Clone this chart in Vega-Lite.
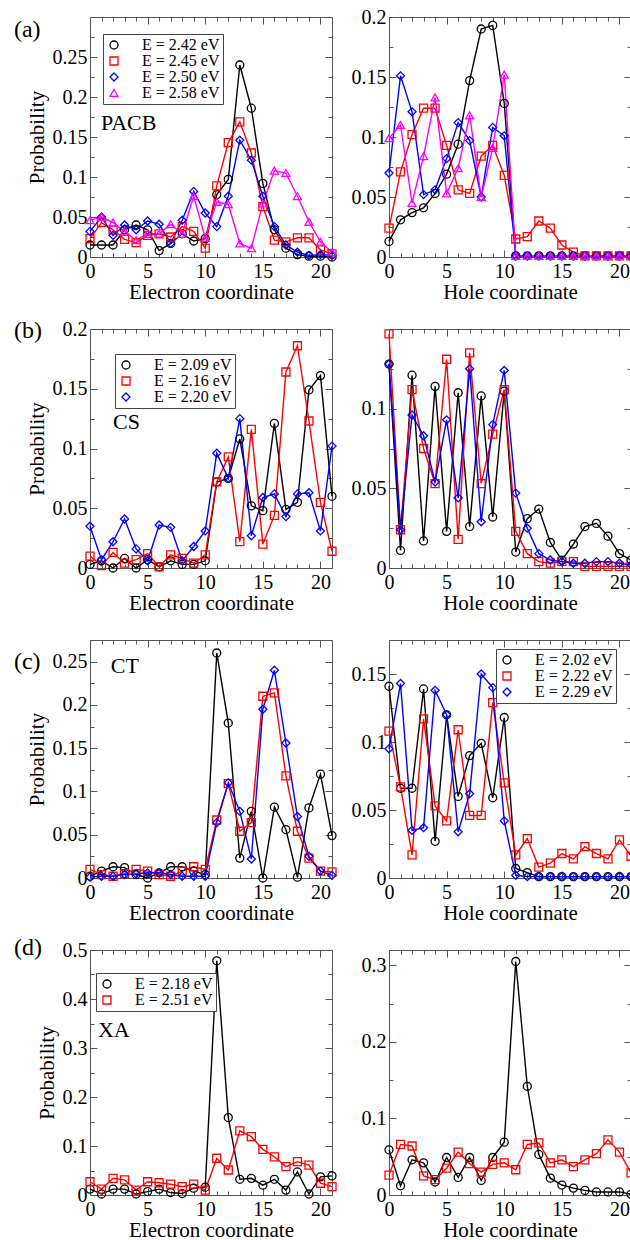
{
"$schema": "https://vega.github.io/schema/vega-lite/v6.json",
"background": "white",
"padding": {"left": 13, "top": 6, "right": 0, "bottom": 0},
"config": {
  "font": "Liberation Serif",
  "view": {"stroke": "#555", "strokeWidth": 1},
  "axis": {"labelFont": "Liberation Serif", "labelFontSize": 20, "labelColor": "#000", "titleFont": "Liberation Serif", "titleFontSize": 21, "titleFontWeight": "normal", "titleColor": "#000", "domain": false, "grid": false, "tickSize": -7, "tickColor": "#555", "tickWidth": 1, "labelFlush": false, "labelOverlap": false},
  "axisX": {"labelPadding": 11, "titlePadding": 0},
  "axisY": {"labelPadding": 10, "titlePadding": 5},
  "legend": {"padding": 3, "strokeColor": "#444", "fillColor": "white", "labelFont": "Liberation Serif", "labelFontSize": 16, "labelColor": "#000", "labelOffset": 20, "symbolSize": 64, "symbolStrokeWidth": 1.3, "rowPadding": 0, "labelLimit": 300}
},
"datasets": {
"aL": [
{"x":0,"y":0.015,"s":"E = 2.42 eV"},{"x":1,"y":0.015,"s":"E = 2.42 eV"},{"x":2,"y":0.015,"s":"E = 2.42 eV"},{"x":3,"y":0.034,"s":"E = 2.42 eV"},{"x":4,"y":0.04,"s":"E = 2.42 eV"},{"x":5,"y":0.034,"s":"E = 2.42 eV"},{"x":6,"y":0.008,"s":"E = 2.42 eV"},{"x":7,"y":0.017,"s":"E = 2.42 eV"},{"x":8,"y":0.029,"s":"E = 2.42 eV"},{"x":9,"y":0.02,"s":"E = 2.42 eV"},{"x":10,"y":0.023,"s":"E = 2.42 eV"},{"x":11,"y":0.078,"s":"E = 2.42 eV"},{"x":12,"y":0.097,"s":"E = 2.42 eV"},{"x":13,"y":0.24,"s":"E = 2.42 eV"},{"x":14,"y":0.186,"s":"E = 2.42 eV"},{"x":15,"y":0.092,"s":"E = 2.42 eV"},{"x":16,"y":0.034,"s":"E = 2.42 eV"},{"x":17,"y":0.011,"s":"E = 2.42 eV"},{"x":18,"y":0.003,"s":"E = 2.42 eV"},{"x":19,"y":0.001,"s":"E = 2.42 eV"},{"x":20,"y":0.001,"s":"E = 2.42 eV"},{"x":21,"y":0.0,"s":"E = 2.42 eV"},
{"x":0,"y":0.023,"s":"E = 2.45 eV"},{"x":1,"y":0.043,"s":"E = 2.45 eV"},{"x":2,"y":0.034,"s":"E = 2.45 eV"},{"x":3,"y":0.022,"s":"E = 2.45 eV"},{"x":4,"y":0.018,"s":"E = 2.45 eV"},{"x":5,"y":0.027,"s":"E = 2.45 eV"},{"x":6,"y":0.029,"s":"E = 2.45 eV"},{"x":7,"y":0.025,"s":"E = 2.45 eV"},{"x":8,"y":0.038,"s":"E = 2.45 eV"},{"x":9,"y":0.032,"s":"E = 2.45 eV"},{"x":10,"y":0.011,"s":"E = 2.45 eV"},{"x":11,"y":0.089,"s":"E = 2.45 eV"},{"x":12,"y":0.143,"s":"E = 2.45 eV"},{"x":13,"y":0.169,"s":"E = 2.45 eV"},{"x":14,"y":0.13,"s":"E = 2.45 eV"},{"x":15,"y":0.063,"s":"E = 2.45 eV"},{"x":16,"y":0.021,"s":"E = 2.45 eV"},{"x":17,"y":0.019,"s":"E = 2.45 eV"},{"x":18,"y":0.024,"s":"E = 2.45 eV"},{"x":19,"y":0.024,"s":"E = 2.45 eV"},{"x":20,"y":0.009,"s":"E = 2.45 eV"},{"x":21,"y":0.004,"s":"E = 2.45 eV"},
{"x":0,"y":0.032,"s":"E = 2.50 eV"},{"x":1,"y":0.05,"s":"E = 2.50 eV"},{"x":2,"y":0.027,"s":"E = 2.50 eV"},{"x":3,"y":0.04,"s":"E = 2.50 eV"},{"x":4,"y":0.034,"s":"E = 2.50 eV"},{"x":5,"y":0.045,"s":"E = 2.50 eV"},{"x":6,"y":0.041,"s":"E = 2.50 eV"},{"x":7,"y":0.017,"s":"E = 2.50 eV"},{"x":8,"y":0.046,"s":"E = 2.50 eV"},{"x":9,"y":0.082,"s":"E = 2.50 eV"},{"x":10,"y":0.055,"s":"E = 2.50 eV"},{"x":11,"y":0.038,"s":"E = 2.50 eV"},{"x":12,"y":0.076,"s":"E = 2.50 eV"},{"x":13,"y":0.146,"s":"E = 2.50 eV"},{"x":14,"y":0.121,"s":"E = 2.50 eV"},{"x":15,"y":0.076,"s":"E = 2.50 eV"},{"x":16,"y":0.038,"s":"E = 2.50 eV"},{"x":17,"y":0.015,"s":"E = 2.50 eV"},{"x":18,"y":0.006,"s":"E = 2.50 eV"},{"x":19,"y":0.002,"s":"E = 2.50 eV"},{"x":20,"y":0.003,"s":"E = 2.50 eV"},{"x":21,"y":0.002,"s":"E = 2.50 eV"},
{"x":0,"y":0.046,"s":"E = 2.58 eV"},{"x":1,"y":0.05,"s":"E = 2.58 eV"},{"x":2,"y":0.043,"s":"E = 2.58 eV"},{"x":3,"y":0.032,"s":"E = 2.58 eV"},{"x":4,"y":0.021,"s":"E = 2.58 eV"},{"x":5,"y":0.029,"s":"E = 2.58 eV"},{"x":6,"y":0.029,"s":"E = 2.58 eV"},{"x":7,"y":0.041,"s":"E = 2.58 eV"},{"x":8,"y":0.029,"s":"E = 2.58 eV"},{"x":9,"y":0.076,"s":"E = 2.58 eV"},{"x":10,"y":0.024,"s":"E = 2.58 eV"},{"x":11,"y":0.069,"s":"E = 2.58 eV"},{"x":12,"y":0.066,"s":"E = 2.58 eV"},{"x":13,"y":0.017,"s":"E = 2.58 eV"},{"x":14,"y":0.011,"s":"E = 2.58 eV"},{"x":15,"y":0.067,"s":"E = 2.58 eV"},{"x":16,"y":0.108,"s":"E = 2.58 eV"},{"x":17,"y":0.105,"s":"E = 2.58 eV"},{"x":18,"y":0.076,"s":"E = 2.58 eV"},{"x":19,"y":0.044,"s":"E = 2.58 eV"},{"x":20,"y":0.019,"s":"E = 2.58 eV"},{"x":21,"y":0.006,"s":"E = 2.58 eV"}
],
"aR": [
{"x":0,"y":0.013,"s":"E = 2.42 eV"},{"x":1,"y":0.031,"s":"E = 2.42 eV"},{"x":2,"y":0.037,"s":"E = 2.42 eV"},{"x":3,"y":0.041,"s":"E = 2.42 eV"},{"x":4,"y":0.053,"s":"E = 2.42 eV"},{"x":5,"y":0.069,"s":"E = 2.42 eV"},{"x":6,"y":0.094,"s":"E = 2.42 eV"},{"x":7,"y":0.147,"s":"E = 2.42 eV"},{"x":8,"y":0.19,"s":"E = 2.42 eV"},{"x":9,"y":0.193,"s":"E = 2.42 eV"},{"x":10,"y":0.128,"s":"E = 2.42 eV"},{"x":11,"y":0.001,"s":"E = 2.42 eV"},{"x":12,"y":0.001,"s":"E = 2.42 eV"},{"x":13,"y":0.001,"s":"E = 2.42 eV"},{"x":14,"y":0.001,"s":"E = 2.42 eV"},{"x":15,"y":0.001,"s":"E = 2.42 eV"},{"x":16,"y":0.001,"s":"E = 2.42 eV"},{"x":17,"y":0.001,"s":"E = 2.42 eV"},{"x":18,"y":0.001,"s":"E = 2.42 eV"},{"x":19,"y":0.001,"s":"E = 2.42 eV"},{"x":20,"y":0.001,"s":"E = 2.42 eV"},{"x":21,"y":0.001,"s":"E = 2.42 eV"},
{"x":0,"y":0.024,"s":"E = 2.45 eV"},{"x":1,"y":0.071,"s":"E = 2.45 eV"},{"x":2,"y":0.102,"s":"E = 2.45 eV"},{"x":3,"y":0.124,"s":"E = 2.45 eV"},{"x":4,"y":0.124,"s":"E = 2.45 eV"},{"x":5,"y":0.093,"s":"E = 2.45 eV"},{"x":6,"y":0.056,"s":"E = 2.45 eV"},{"x":7,"y":0.053,"s":"E = 2.45 eV"},{"x":8,"y":0.084,"s":"E = 2.45 eV"},{"x":9,"y":0.093,"s":"E = 2.45 eV"},{"x":10,"y":0.068,"s":"E = 2.45 eV"},{"x":11,"y":0.015,"s":"E = 2.45 eV"},{"x":12,"y":0.017,"s":"E = 2.45 eV"},{"x":13,"y":0.03,"s":"E = 2.45 eV"},{"x":14,"y":0.024,"s":"E = 2.45 eV"},{"x":15,"y":0.01,"s":"E = 2.45 eV"},{"x":16,"y":0.004,"s":"E = 2.45 eV"},{"x":17,"y":0.001,"s":"E = 2.45 eV"},{"x":18,"y":0.001,"s":"E = 2.45 eV"},{"x":19,"y":0.001,"s":"E = 2.45 eV"},{"x":20,"y":0.001,"s":"E = 2.45 eV"},{"x":21,"y":0.001,"s":"E = 2.45 eV"},
{"x":0,"y":0.07,"s":"E = 2.50 eV"},{"x":1,"y":0.151,"s":"E = 2.50 eV"},{"x":2,"y":0.121,"s":"E = 2.50 eV"},{"x":3,"y":0.052,"s":"E = 2.50 eV"},{"x":4,"y":0.056,"s":"E = 2.50 eV"},{"x":5,"y":0.082,"s":"E = 2.50 eV"},{"x":6,"y":0.112,"s":"E = 2.50 eV"},{"x":7,"y":0.097,"s":"E = 2.50 eV"},{"x":8,"y":0.05,"s":"E = 2.50 eV"},{"x":9,"y":0.108,"s":"E = 2.50 eV"},{"x":10,"y":0.101,"s":"E = 2.50 eV"},{"x":11,"y":0.001,"s":"E = 2.50 eV"},{"x":12,"y":0.001,"s":"E = 2.50 eV"},{"x":13,"y":0.001,"s":"E = 2.50 eV"},{"x":14,"y":0.001,"s":"E = 2.50 eV"},{"x":15,"y":0.001,"s":"E = 2.50 eV"},{"x":16,"y":0.001,"s":"E = 2.50 eV"},{"x":17,"y":0.001,"s":"E = 2.50 eV"},{"x":18,"y":0.001,"s":"E = 2.50 eV"},{"x":19,"y":0.001,"s":"E = 2.50 eV"},{"x":20,"y":0.001,"s":"E = 2.50 eV"},{"x":21,"y":0.001,"s":"E = 2.50 eV"},
{"x":0,"y":0.099,"s":"E = 2.58 eV"},{"x":1,"y":0.11,"s":"E = 2.58 eV"},{"x":2,"y":0.045,"s":"E = 2.58 eV"},{"x":3,"y":0.084,"s":"E = 2.58 eV"},{"x":4,"y":0.133,"s":"E = 2.58 eV"},{"x":5,"y":0.053,"s":"E = 2.58 eV"},{"x":6,"y":0.074,"s":"E = 2.58 eV"},{"x":7,"y":0.118,"s":"E = 2.58 eV"},{"x":8,"y":0.05,"s":"E = 2.58 eV"},{"x":9,"y":0.091,"s":"E = 2.58 eV"},{"x":10,"y":0.152,"s":"E = 2.58 eV"},{"x":11,"y":0.001,"s":"E = 2.58 eV"},{"x":12,"y":0.001,"s":"E = 2.58 eV"},{"x":13,"y":0.001,"s":"E = 2.58 eV"},{"x":14,"y":0.001,"s":"E = 2.58 eV"},{"x":15,"y":0.001,"s":"E = 2.58 eV"},{"x":16,"y":0.001,"s":"E = 2.58 eV"},{"x":17,"y":0.001,"s":"E = 2.58 eV"},{"x":18,"y":0.001,"s":"E = 2.58 eV"},{"x":19,"y":0.001,"s":"E = 2.58 eV"},{"x":20,"y":0.001,"s":"E = 2.58 eV"},{"x":21,"y":0.001,"s":"E = 2.58 eV"}
],
"bL": [
{"x":0,"y":0.003,"s":"E = 2.09 eV"},{"x":1,"y":0.006,"s":"E = 2.09 eV"},{"x":2,"y":0.0,"s":"E = 2.09 eV"},{"x":3,"y":0.008,"s":"E = 2.09 eV"},{"x":4,"y":0.0,"s":"E = 2.09 eV"},{"x":5,"y":0.007,"s":"E = 2.09 eV"},{"x":6,"y":0.001,"s":"E = 2.09 eV"},{"x":7,"y":0.006,"s":"E = 2.09 eV"},{"x":8,"y":0.003,"s":"E = 2.09 eV"},{"x":9,"y":0.003,"s":"E = 2.09 eV"},{"x":10,"y":0.006,"s":"E = 2.09 eV"},{"x":11,"y":0.072,"s":"E = 2.09 eV"},{"x":12,"y":0.075,"s":"E = 2.09 eV"},{"x":13,"y":0.108,"s":"E = 2.09 eV"},{"x":14,"y":0.052,"s":"E = 2.09 eV"},{"x":15,"y":0.048,"s":"E = 2.09 eV"},{"x":16,"y":0.121,"s":"E = 2.09 eV"},{"x":17,"y":0.049,"s":"E = 2.09 eV"},{"x":18,"y":0.055,"s":"E = 2.09 eV"},{"x":19,"y":0.149,"s":"E = 2.09 eV"},{"x":20,"y":0.161,"s":"E = 2.09 eV"},{"x":21,"y":0.06,"s":"E = 2.09 eV"},
{"x":0,"y":0.01,"s":"E = 2.16 eV"},{"x":1,"y":0.002,"s":"E = 2.16 eV"},{"x":2,"y":0.013,"s":"E = 2.16 eV"},{"x":3,"y":0.004,"s":"E = 2.16 eV"},{"x":4,"y":0.007,"s":"E = 2.16 eV"},{"x":5,"y":0.012,"s":"E = 2.16 eV"},{"x":6,"y":0.001,"s":"E = 2.16 eV"},{"x":7,"y":0.011,"s":"E = 2.16 eV"},{"x":8,"y":0.008,"s":"E = 2.16 eV"},{"x":9,"y":0.004,"s":"E = 2.16 eV"},{"x":10,"y":0.011,"s":"E = 2.16 eV"},{"x":11,"y":0.072,"s":"E = 2.16 eV"},{"x":12,"y":0.093,"s":"E = 2.16 eV"},{"x":13,"y":0.022,"s":"E = 2.16 eV"},{"x":14,"y":0.116,"s":"E = 2.16 eV"},{"x":15,"y":0.02,"s":"E = 2.16 eV"},{"x":16,"y":0.044,"s":"E = 2.16 eV"},{"x":17,"y":0.164,"s":"E = 2.16 eV"},{"x":18,"y":0.186,"s":"E = 2.16 eV"},{"x":19,"y":0.123,"s":"E = 2.16 eV"},{"x":20,"y":0.055,"s":"E = 2.16 eV"},{"x":21,"y":0.014,"s":"E = 2.16 eV"},
{"x":0,"y":0.035,"s":"E = 2.20 eV"},{"x":1,"y":0.007,"s":"E = 2.20 eV"},{"x":2,"y":0.022,"s":"E = 2.20 eV"},{"x":3,"y":0.041,"s":"E = 2.20 eV"},{"x":4,"y":0.016,"s":"E = 2.20 eV"},{"x":5,"y":0.006,"s":"E = 2.20 eV"},{"x":6,"y":0.036,"s":"E = 2.20 eV"},{"x":7,"y":0.034,"s":"E = 2.20 eV"},{"x":8,"y":0.006,"s":"E = 2.20 eV"},{"x":9,"y":0.018,"s":"E = 2.20 eV"},{"x":10,"y":0.031,"s":"E = 2.20 eV"},{"x":11,"y":0.096,"s":"E = 2.20 eV"},{"x":12,"y":0.075,"s":"E = 2.20 eV"},{"x":13,"y":0.125,"s":"E = 2.20 eV"},{"x":14,"y":0.027,"s":"E = 2.20 eV"},{"x":15,"y":0.059,"s":"E = 2.20 eV"},{"x":16,"y":0.062,"s":"E = 2.20 eV"},{"x":17,"y":0.043,"s":"E = 2.20 eV"},{"x":18,"y":0.062,"s":"E = 2.20 eV"},{"x":19,"y":0.063,"s":"E = 2.20 eV"},{"x":20,"y":0.031,"s":"E = 2.20 eV"},{"x":21,"y":0.102,"s":"E = 2.20 eV"}
],
"bR": [
{"x":0,"y":0.128,"s":"E = 2.09 eV"},{"x":1,"y":0.011,"s":"E = 2.09 eV"},{"x":2,"y":0.121,"s":"E = 2.09 eV"},{"x":3,"y":0.017,"s":"E = 2.09 eV"},{"x":4,"y":0.114,"s":"E = 2.09 eV"},{"x":5,"y":0.023,"s":"E = 2.09 eV"},{"x":6,"y":0.11,"s":"E = 2.09 eV"},{"x":7,"y":0.026,"s":"E = 2.09 eV"},{"x":8,"y":0.108,"s":"E = 2.09 eV"},{"x":9,"y":0.032,"s":"E = 2.09 eV"},{"x":10,"y":0.111,"s":"E = 2.09 eV"},{"x":11,"y":0.01,"s":"E = 2.09 eV"},{"x":12,"y":0.031,"s":"E = 2.09 eV"},{"x":13,"y":0.037,"s":"E = 2.09 eV"},{"x":14,"y":0.016,"s":"E = 2.09 eV"},{"x":15,"y":0.005,"s":"E = 2.09 eV"},{"x":16,"y":0.015,"s":"E = 2.09 eV"},{"x":17,"y":0.026,"s":"E = 2.09 eV"},{"x":18,"y":0.028,"s":"E = 2.09 eV"},{"x":19,"y":0.02,"s":"E = 2.09 eV"},{"x":20,"y":0.009,"s":"E = 2.09 eV"},{"x":21,"y":0.005,"s":"E = 2.09 eV"},
{"x":0,"y":0.147,"s":"E = 2.16 eV"},{"x":1,"y":0.024,"s":"E = 2.16 eV"},{"x":2,"y":0.112,"s":"E = 2.16 eV"},{"x":3,"y":0.075,"s":"E = 2.16 eV"},{"x":4,"y":0.053,"s":"E = 2.16 eV"},{"x":5,"y":0.131,"s":"E = 2.16 eV"},{"x":6,"y":0.018,"s":"E = 2.16 eV"},{"x":7,"y":0.135,"s":"E = 2.16 eV"},{"x":8,"y":0.053,"s":"E = 2.16 eV"},{"x":9,"y":0.084,"s":"E = 2.16 eV"},{"x":10,"y":0.112,"s":"E = 2.16 eV"},{"x":11,"y":0.023,"s":"E = 2.16 eV"},{"x":12,"y":0.009,"s":"E = 2.16 eV"},{"x":13,"y":0.004,"s":"E = 2.16 eV"},{"x":14,"y":0.003,"s":"E = 2.16 eV"},{"x":15,"y":0.004,"s":"E = 2.16 eV"},{"x":16,"y":0.004,"s":"E = 2.16 eV"},{"x":17,"y":0.001,"s":"E = 2.16 eV"},{"x":18,"y":0.001,"s":"E = 2.16 eV"},{"x":19,"y":0.001,"s":"E = 2.16 eV"},{"x":20,"y":0.001,"s":"E = 2.16 eV"},{"x":21,"y":0.001,"s":"E = 2.16 eV"},
{"x":0,"y":0.128,"s":"E = 2.20 eV"},{"x":1,"y":0.024,"s":"E = 2.20 eV"},{"x":2,"y":0.096,"s":"E = 2.20 eV"},{"x":3,"y":0.083,"s":"E = 2.20 eV"},{"x":4,"y":0.054,"s":"E = 2.20 eV"},{"x":5,"y":0.093,"s":"E = 2.20 eV"},{"x":6,"y":0.044,"s":"E = 2.20 eV"},{"x":7,"y":0.125,"s":"E = 2.20 eV"},{"x":8,"y":0.029,"s":"E = 2.20 eV"},{"x":9,"y":0.09,"s":"E = 2.20 eV"},{"x":10,"y":0.124,"s":"E = 2.20 eV"},{"x":11,"y":0.047,"s":"E = 2.20 eV"},{"x":12,"y":0.025,"s":"E = 2.20 eV"},{"x":13,"y":0.009,"s":"E = 2.20 eV"},{"x":14,"y":0.005,"s":"E = 2.20 eV"},{"x":15,"y":0.004,"s":"E = 2.20 eV"},{"x":16,"y":0.003,"s":"E = 2.20 eV"},{"x":17,"y":0.003,"s":"E = 2.20 eV"},{"x":18,"y":0.004,"s":"E = 2.20 eV"},{"x":19,"y":0.004,"s":"E = 2.20 eV"},{"x":20,"y":0.003,"s":"E = 2.20 eV"},{"x":21,"y":0.002,"s":"E = 2.20 eV"}
],
"cL": [
{"x":0,"y":0.002,"s":"E = 2.02 eV"},{"x":1,"y":0.008,"s":"E = 2.02 eV"},{"x":2,"y":0.013,"s":"E = 2.02 eV"},{"x":3,"y":0.012,"s":"E = 2.02 eV"},{"x":4,"y":0.004,"s":"E = 2.02 eV"},{"x":5,"y":0.0,"s":"E = 2.02 eV"},{"x":6,"y":0.006,"s":"E = 2.02 eV"},{"x":7,"y":0.013,"s":"E = 2.02 eV"},{"x":8,"y":0.013,"s":"E = 2.02 eV"},{"x":9,"y":0.008,"s":"E = 2.02 eV"},{"x":10,"y":0.004,"s":"E = 2.02 eV"},{"x":11,"y":0.26,"s":"E = 2.02 eV"},{"x":12,"y":0.179,"s":"E = 2.02 eV"},{"x":13,"y":0.023,"s":"E = 2.02 eV"},{"x":14,"y":0.077,"s":"E = 2.02 eV"},{"x":15,"y":0.0,"s":"E = 2.02 eV"},{"x":16,"y":0.082,"s":"E = 2.02 eV"},{"x":17,"y":0.056,"s":"E = 2.02 eV"},{"x":18,"y":0.001,"s":"E = 2.02 eV"},{"x":19,"y":0.081,"s":"E = 2.02 eV"},{"x":20,"y":0.12,"s":"E = 2.02 eV"},{"x":21,"y":0.049,"s":"E = 2.02 eV"},
{"x":0,"y":0.01,"s":"E = 2.22 eV"},{"x":1,"y":0.004,"s":"E = 2.22 eV"},{"x":2,"y":0.002,"s":"E = 2.22 eV"},{"x":3,"y":0.005,"s":"E = 2.22 eV"},{"x":4,"y":0.01,"s":"E = 2.22 eV"},{"x":5,"y":0.008,"s":"E = 2.22 eV"},{"x":6,"y":0.004,"s":"E = 2.22 eV"},{"x":7,"y":0.002,"s":"E = 2.22 eV"},{"x":8,"y":0.008,"s":"E = 2.22 eV"},{"x":9,"y":0.013,"s":"E = 2.22 eV"},{"x":10,"y":0.01,"s":"E = 2.22 eV"},{"x":11,"y":0.067,"s":"E = 2.22 eV"},{"x":12,"y":0.109,"s":"E = 2.22 eV"},{"x":13,"y":0.054,"s":"E = 2.22 eV"},{"x":14,"y":0.064,"s":"E = 2.22 eV"},{"x":15,"y":0.21,"s":"E = 2.22 eV"},{"x":16,"y":0.214,"s":"E = 2.22 eV"},{"x":17,"y":0.118,"s":"E = 2.22 eV"},{"x":18,"y":0.054,"s":"E = 2.22 eV"},{"x":19,"y":0.023,"s":"E = 2.22 eV"},{"x":20,"y":0.008,"s":"E = 2.22 eV"},{"x":21,"y":0.007,"s":"E = 2.22 eV"},
{"x":0,"y":0.001,"s":"E = 2.29 eV"},{"x":1,"y":0.002,"s":"E = 2.29 eV"},{"x":2,"y":0.002,"s":"E = 2.29 eV"},{"x":3,"y":0.004,"s":"E = 2.29 eV"},{"x":4,"y":0.005,"s":"E = 2.29 eV"},{"x":5,"y":0.006,"s":"E = 2.29 eV"},{"x":6,"y":0.006,"s":"E = 2.29 eV"},{"x":7,"y":0.004,"s":"E = 2.29 eV"},{"x":8,"y":0.002,"s":"E = 2.29 eV"},{"x":9,"y":0.002,"s":"E = 2.29 eV"},{"x":10,"y":0.002,"s":"E = 2.29 eV"},{"x":11,"y":0.064,"s":"E = 2.29 eV"},{"x":12,"y":0.11,"s":"E = 2.29 eV"},{"x":13,"y":0.077,"s":"E = 2.29 eV"},{"x":14,"y":0.022,"s":"E = 2.29 eV"},{"x":15,"y":0.195,"s":"E = 2.29 eV"},{"x":16,"y":0.24,"s":"E = 2.29 eV"},{"x":17,"y":0.156,"s":"E = 2.29 eV"},{"x":18,"y":0.071,"s":"E = 2.29 eV"},{"x":19,"y":0.025,"s":"E = 2.29 eV"},{"x":20,"y":0.008,"s":"E = 2.29 eV"},{"x":21,"y":0.003,"s":"E = 2.29 eV"}
],
"cR": [
{"x":0,"y":0.141,"s":"E = 2.02 eV"},{"x":1,"y":0.066,"s":"E = 2.02 eV"},{"x":2,"y":0.066,"s":"E = 2.02 eV"},{"x":3,"y":0.139,"s":"E = 2.02 eV"},{"x":4,"y":0.027,"s":"E = 2.02 eV"},{"x":5,"y":0.12,"s":"E = 2.02 eV"},{"x":6,"y":0.06,"s":"E = 2.02 eV"},{"x":7,"y":0.09,"s":"E = 2.02 eV"},{"x":8,"y":0.099,"s":"E = 2.02 eV"},{"x":9,"y":0.059,"s":"E = 2.02 eV"},{"x":10,"y":0.118,"s":"E = 2.02 eV"},{"x":11,"y":0.007,"s":"E = 2.02 eV"},{"x":12,"y":0.004,"s":"E = 2.02 eV"},{"x":13,"y":0.001,"s":"E = 2.02 eV"},{"x":14,"y":0.001,"s":"E = 2.02 eV"},{"x":15,"y":0.001,"s":"E = 2.02 eV"},{"x":16,"y":0.001,"s":"E = 2.02 eV"},{"x":17,"y":0.001,"s":"E = 2.02 eV"},{"x":18,"y":0.001,"s":"E = 2.02 eV"},{"x":19,"y":0.001,"s":"E = 2.02 eV"},{"x":20,"y":0.001,"s":"E = 2.02 eV"},{"x":21,"y":0.001,"s":"E = 2.02 eV"},
{"x":0,"y":0.108,"s":"E = 2.22 eV"},{"x":1,"y":0.067,"s":"E = 2.22 eV"},{"x":2,"y":0.017,"s":"E = 2.22 eV"},{"x":3,"y":0.117,"s":"E = 2.22 eV"},{"x":4,"y":0.053,"s":"E = 2.22 eV"},{"x":5,"y":0.042,"s":"E = 2.22 eV"},{"x":6,"y":0.109,"s":"E = 2.22 eV"},{"x":7,"y":0.046,"s":"E = 2.22 eV"},{"x":8,"y":0.046,"s":"E = 2.22 eV"},{"x":9,"y":0.129,"s":"E = 2.22 eV"},{"x":10,"y":0.07,"s":"E = 2.22 eV"},{"x":11,"y":0.017,"s":"E = 2.22 eV"},{"x":12,"y":0.029,"s":"E = 2.22 eV"},{"x":13,"y":0.008,"s":"E = 2.22 eV"},{"x":14,"y":0.011,"s":"E = 2.22 eV"},{"x":15,"y":0.018,"s":"E = 2.22 eV"},{"x":16,"y":0.014,"s":"E = 2.22 eV"},{"x":17,"y":0.023,"s":"E = 2.22 eV"},{"x":18,"y":0.018,"s":"E = 2.22 eV"},{"x":19,"y":0.014,"s":"E = 2.22 eV"},{"x":20,"y":0.028,"s":"E = 2.22 eV"},{"x":21,"y":0.016,"s":"E = 2.22 eV"},
{"x":0,"y":0.095,"s":"E = 2.29 eV"},{"x":1,"y":0.143,"s":"E = 2.29 eV"},{"x":2,"y":0.035,"s":"E = 2.29 eV"},{"x":3,"y":0.037,"s":"E = 2.29 eV"},{"x":4,"y":0.138,"s":"E = 2.29 eV"},{"x":5,"y":0.12,"s":"E = 2.29 eV"},{"x":6,"y":0.034,"s":"E = 2.29 eV"},{"x":7,"y":0.062,"s":"E = 2.29 eV"},{"x":8,"y":0.15,"s":"E = 2.29 eV"},{"x":9,"y":0.14,"s":"E = 2.29 eV"},{"x":10,"y":0.042,"s":"E = 2.29 eV"},{"x":11,"y":0.002,"s":"E = 2.29 eV"},{"x":12,"y":0.001,"s":"E = 2.29 eV"},{"x":13,"y":0.001,"s":"E = 2.29 eV"},{"x":14,"y":0.001,"s":"E = 2.29 eV"},{"x":15,"y":0.001,"s":"E = 2.29 eV"},{"x":16,"y":0.001,"s":"E = 2.29 eV"},{"x":17,"y":0.001,"s":"E = 2.29 eV"},{"x":18,"y":0.001,"s":"E = 2.29 eV"},{"x":19,"y":0.001,"s":"E = 2.29 eV"},{"x":20,"y":0.001,"s":"E = 2.29 eV"},{"x":21,"y":0.001,"s":"E = 2.29 eV"}
],
"dL": [
{"x":0,"y":0.012,"s":"E = 2.18 eV"},{"x":1,"y":0.002,"s":"E = 2.18 eV"},{"x":2,"y":0.012,"s":"E = 2.18 eV"},{"x":3,"y":0.012,"s":"E = 2.18 eV"},{"x":4,"y":0.002,"s":"E = 2.18 eV"},{"x":5,"y":0.007,"s":"E = 2.18 eV"},{"x":6,"y":0.012,"s":"E = 2.18 eV"},{"x":7,"y":0.005,"s":"E = 2.18 eV"},{"x":8,"y":0.003,"s":"E = 2.18 eV"},{"x":9,"y":0.014,"s":"E = 2.18 eV"},{"x":10,"y":0.016,"s":"E = 2.18 eV"},{"x":11,"y":0.478,"s":"E = 2.18 eV"},{"x":12,"y":0.158,"s":"E = 2.18 eV"},{"x":13,"y":0.032,"s":"E = 2.18 eV"},{"x":14,"y":0.034,"s":"E = 2.18 eV"},{"x":15,"y":0.02,"s":"E = 2.18 eV"},{"x":16,"y":0.032,"s":"E = 2.18 eV"},{"x":17,"y":0.01,"s":"E = 2.18 eV"},{"x":18,"y":0.047,"s":"E = 2.18 eV"},{"x":19,"y":0.002,"s":"E = 2.18 eV"},{"x":20,"y":0.037,"s":"E = 2.18 eV"},{"x":21,"y":0.039,"s":"E = 2.18 eV"},
{"x":0,"y":0.027,"s":"E = 2.51 eV"},{"x":1,"y":0.012,"s":"E = 2.51 eV"},{"x":2,"y":0.034,"s":"E = 2.51 eV"},{"x":3,"y":0.031,"s":"E = 2.51 eV"},{"x":4,"y":0.01,"s":"E = 2.51 eV"},{"x":5,"y":0.027,"s":"E = 2.51 eV"},{"x":6,"y":0.025,"s":"E = 2.51 eV"},{"x":7,"y":0.022,"s":"E = 2.51 eV"},{"x":8,"y":0.017,"s":"E = 2.51 eV"},{"x":9,"y":0.022,"s":"E = 2.51 eV"},{"x":10,"y":0.01,"s":"E = 2.51 eV"},{"x":11,"y":0.075,"s":"E = 2.51 eV"},{"x":12,"y":0.051,"s":"E = 2.51 eV"},{"x":13,"y":0.131,"s":"E = 2.51 eV"},{"x":14,"y":0.119,"s":"E = 2.51 eV"},{"x":15,"y":0.093,"s":"E = 2.51 eV"},{"x":16,"y":0.078,"s":"E = 2.51 eV"},{"x":17,"y":0.058,"s":"E = 2.51 eV"},{"x":18,"y":0.068,"s":"E = 2.51 eV"},{"x":19,"y":0.061,"s":"E = 2.51 eV"},{"x":20,"y":0.024,"s":"E = 2.51 eV"},{"x":21,"y":0.017,"s":"E = 2.51 eV"}
],
"dR": [
{"x":0,"y":0.059,"s":"E = 2.18 eV"},{"x":1,"y":0.012,"s":"E = 2.18 eV"},{"x":2,"y":0.046,"s":"E = 2.18 eV"},{"x":3,"y":0.042,"s":"E = 2.18 eV"},{"x":4,"y":0.017,"s":"E = 2.18 eV"},{"x":5,"y":0.049,"s":"E = 2.18 eV"},{"x":6,"y":0.023,"s":"E = 2.18 eV"},{"x":7,"y":0.049,"s":"E = 2.18 eV"},{"x":8,"y":0.019,"s":"E = 2.18 eV"},{"x":9,"y":0.049,"s":"E = 2.18 eV"},{"x":10,"y":0.069,"s":"E = 2.18 eV"},{"x":11,"y":0.305,"s":"E = 2.18 eV"},{"x":12,"y":0.142,"s":"E = 2.18 eV"},{"x":13,"y":0.053,"s":"E = 2.18 eV"},{"x":14,"y":0.022,"s":"E = 2.18 eV"},{"x":15,"y":0.013,"s":"E = 2.18 eV"},{"x":16,"y":0.009,"s":"E = 2.18 eV"},{"x":17,"y":0.006,"s":"E = 2.18 eV"},{"x":18,"y":0.004,"s":"E = 2.18 eV"},{"x":19,"y":0.004,"s":"E = 2.18 eV"},{"x":20,"y":0.004,"s":"E = 2.18 eV"},{"x":21,"y":0.001,"s":"E = 2.18 eV"},
{"x":0,"y":0.026,"s":"E = 2.51 eV"},{"x":1,"y":0.066,"s":"E = 2.51 eV"},{"x":2,"y":0.064,"s":"E = 2.51 eV"},{"x":3,"y":0.025,"s":"E = 2.51 eV"},{"x":4,"y":0.02,"s":"E = 2.51 eV"},{"x":5,"y":0.035,"s":"E = 2.51 eV"},{"x":6,"y":0.056,"s":"E = 2.51 eV"},{"x":7,"y":0.041,"s":"E = 2.51 eV"},{"x":8,"y":0.03,"s":"E = 2.51 eV"},{"x":9,"y":0.04,"s":"E = 2.51 eV"},{"x":10,"y":0.042,"s":"E = 2.51 eV"},{"x":11,"y":0.033,"s":"E = 2.51 eV"},{"x":12,"y":0.066,"s":"E = 2.51 eV"},{"x":13,"y":0.068,"s":"E = 2.51 eV"},{"x":14,"y":0.042,"s":"E = 2.51 eV"},{"x":15,"y":0.046,"s":"E = 2.51 eV"},{"x":16,"y":0.037,"s":"E = 2.51 eV"},{"x":17,"y":0.046,"s":"E = 2.51 eV"},{"x":18,"y":0.054,"s":"E = 2.51 eV"},{"x":19,"y":0.072,"s":"E = 2.51 eV"},{"x":20,"y":0.056,"s":"E = 2.51 eV"},{"x":21,"y":0.029,"s":"E = 2.51 eV"}
]
},
"columns": 2,
"spacing": {"row": 72, "column": 57},
"bounds": "flush",
"align": "each",
"resolve": {"scale": {"color": "independent", "shape": "independent", "stroke": "independent"}, "legend": {"color": "independent", "shape": "independent", "stroke": "independent"}},
"concat": [
 {"width": 242, "height": 240, "data": {"name": "aL"}, "layer": [
  {"mark": {"type": "line", "strokeWidth": 1.4}, "encoding": {
    "x": {"field": "x", "type": "quantitative", "scale": {"domain": [0, 21], "nice": false, "zero": false}, "axis": {"orient": "bottom", "title": "Electron coordinate", "values": [0,1,2,3,4,5,6,7,8,9,10,11,12,13,14,15,16,17,18,19,20,21], "labelExpr": "datum.value % 5 === 0 ? datum.label : ''", "encoding": {"ticks": {"y2": {"condition": {"test": "datum.value % 5 !== 0", "value": -4}, "value": -7}}}}},
    "y": {"field": "y", "type": "quantitative", "scale": {"domain": [0, 0.3], "nice": false}, "axis": {"orient": "left", "title": "Probability", "values": [0,0.025,0.05,0.075,0.1,0.125,0.15,0.175,0.2,0.225,0.25,0.275], "labelExpr": "abs(datum.value*20 - round(datum.value*20)) < 0.001 ? format(datum.value, '~g') : ''", "encoding": {"ticks": {"x2": {"condition": {"test": "abs(datum.value*20 - round(datum.value*20)) > 0.001", "value": 4}, "value": 7}}}}},
    "stroke": {"field": "s", "type": "nominal", "scale": {"domain": ["E = 2.58 eV","E = 2.50 eV","E = 2.45 eV","E = 2.42 eV"], "range": ["#ff00ff","#0000ff","#ff0000","#000000"]}, "legend": null}}},
  {"mark": {"type": "point", "filled": false, "size": 64, "strokeWidth": 1.3, "opacity": 1}, "encoding": {
    "x": {"field": "x", "type": "quantitative", "axis": null},
    "y": {"field": "y", "type": "quantitative", "axis": null},
    "color": {"field": "s", "type": "nominal", "scale": {"domain": ["E = 2.42 eV","E = 2.45 eV","E = 2.50 eV","E = 2.58 eV"], "range": ["#000000","#ff0000","#0000ff","#ff00ff"]}, "legend": {"orient": "none", "legendX": 13, "legendY": 17, "title": null, "symbolType": "circle"}},
    "shape": {"field": "s", "type": "nominal", "scale": {"domain": ["E = 2.42 eV","E = 2.45 eV","E = 2.50 eV","E = 2.58 eV"], "range": ["circle","square","diamond","triangle-up"]}, "legend": null}}},
  {"mark": {"type": "point", "opacity": 0}, "encoding": {
    "x": {"field": "x", "type": "quantitative", "axis": {"orient": "top", "title": null, "labels": false, "values": [0,1,2,3,4,5,6,7,8,9,10,11,12,13,14,15,16,17,18,19,20,21], "encoding": {"ticks": {"y2": {"condition": {"test": "datum.value % 5 !== 0", "value": 4}, "value": 7}}}}},
    "y": {"field": "y", "type": "quantitative", "axis": {"orient": "right", "title": null, "labels": false, "values": [0,0.025,0.05,0.075,0.1,0.125,0.15,0.175,0.2,0.225,0.25,0.275], "encoding": {"ticks": {"x2": {"condition": {"test": "abs(datum.value*20 - round(datum.value*20)) > 0.001", "value": -4}, "value": -7}}}}}}},
  {"data": {"values": [{}]}, "mark": {"type": "text", "align": "left", "baseline": "middle", "fontSize": 24, "font": "Liberation Serif", "color": "#000"}, "encoding": {"x": {"datum": -6.6, "type": "quantitative", "axis": null}, "y": {"datum": 0.284, "type": "quantitative", "axis": null}, "text": {"value": "(a)"}}},
  {"data": {"values": [{}]}, "mark": {"type": "text", "align": "left", "baseline": "middle", "fontSize": 22, "font": "Liberation Serif", "color": "#000"}, "encoding": {"x": {"datum": 0.95, "type": "quantitative", "axis": null}, "y": {"datum": 0.168, "type": "quantitative", "axis": null}, "text": {"value": "PACB"}}}
 ]},
 {"width": 242, "height": 240, "data": {"name": "aR"}, "layer": [
  {"mark": {"type": "line", "strokeWidth": 1.4}, "encoding": {
    "x": {"field": "x", "type": "quantitative", "scale": {"domain": [0, 21], "nice": false, "zero": false}, "axis": {"orient": "bottom", "title": "Hole coordinate", "values": [0,1,2,3,4,5,6,7,8,9,10,11,12,13,14,15,16,17,18,19,20,21], "labelExpr": "datum.value % 5 === 0 ? datum.label : ''", "encoding": {"ticks": {"y2": {"condition": {"test": "datum.value % 5 !== 0", "value": -4}, "value": -7}}}}},
    "y": {"field": "y", "type": "quantitative", "scale": {"domain": [0, 0.2], "nice": false}, "axis": {"orient": "left", "title": null, "values": [0,0.025,0.05,0.075,0.1,0.125,0.15,0.175,0.2], "labelExpr": "abs(datum.value*20 - round(datum.value*20)) < 0.001 ? format(datum.value, '~g') : ''", "encoding": {"ticks": {"x2": {"condition": {"test": "abs(datum.value*20 - round(datum.value*20)) > 0.001", "value": 4}, "value": 7}}}}},
    "stroke": {"field": "s", "type": "nominal", "scale": {"domain": ["E = 2.42 eV","E = 2.45 eV","E = 2.50 eV","E = 2.58 eV"], "range": ["#000000","#ff0000","#0000ff","#ff00ff"]}, "legend": null}}},
  {"mark": {"type": "point", "filled": false, "size": 64, "strokeWidth": 1.3, "opacity": 1}, "encoding": {
    "x": {"field": "x", "type": "quantitative", "axis": null},
    "y": {"field": "y", "type": "quantitative", "axis": null},
    "color": {"field": "s", "type": "nominal", "scale": {"domain": ["E = 2.42 eV","E = 2.45 eV","E = 2.50 eV","E = 2.58 eV"], "range": ["#000000","#ff0000","#0000ff","#ff00ff"]}, "legend": null},
    "shape": {"field": "s", "type": "nominal", "scale": {"domain": ["E = 2.42 eV","E = 2.45 eV","E = 2.50 eV","E = 2.58 eV"], "range": ["circle","square","diamond","triangle-up"]}, "legend": null}}},
  {"mark": {"type": "point", "opacity": 0}, "encoding": {
    "x": {"field": "x", "type": "quantitative", "axis": {"orient": "top", "title": null, "labels": false, "values": [0,1,2,3,4,5,6,7,8,9,10,11,12,13,14,15,16,17,18,19,20,21], "encoding": {"ticks": {"y2": {"condition": {"test": "datum.value % 5 !== 0", "value": 4}, "value": 7}}}}},
    "y": {"field": "y", "type": "quantitative", "axis": {"orient": "right", "title": null, "labels": false, "values": [0,0.025,0.05,0.075,0.1,0.125,0.15,0.175,0.2], "encoding": {"ticks": {"x2": {"condition": {"test": "abs(datum.value*20 - round(datum.value*20)) > 0.001", "value": -4}, "value": -7}}}}}}}
 ]},
 {"width": 242, "height": 239, "data": {"name": "bL"}, "layer": [
  {"mark": {"type": "line", "strokeWidth": 1.4}, "encoding": {
    "x": {"field": "x", "type": "quantitative", "scale": {"domain": [0, 21], "nice": false, "zero": false}, "axis": {"orient": "bottom", "title": "Electron coordinate", "values": [0,1,2,3,4,5,6,7,8,9,10,11,12,13,14,15,16,17,18,19,20,21], "labelExpr": "datum.value % 5 === 0 ? datum.label : ''", "encoding": {"ticks": {"y2": {"condition": {"test": "datum.value % 5 !== 0", "value": -4}, "value": -7}}}}},
    "y": {"field": "y", "type": "quantitative", "scale": {"domain": [0, 0.2], "nice": false}, "axis": {"orient": "left", "title": "Probability", "values": [0,0.025,0.05,0.075,0.1,0.125,0.15,0.175,0.2], "labelExpr": "abs(datum.value*20 - round(datum.value*20)) < 0.001 ? format(datum.value, '~g') : ''", "encoding": {"ticks": {"x2": {"condition": {"test": "abs(datum.value*20 - round(datum.value*20)) > 0.001", "value": 4}, "value": 7}}}}},
    "stroke": {"field": "s", "type": "nominal", "scale": {"domain": ["E = 2.20 eV","E = 2.16 eV","E = 2.09 eV"], "range": ["#0000ff","#ff0000","#000000"]}, "legend": null}}},
  {"mark": {"type": "point", "filled": false, "size": 64, "strokeWidth": 1.3, "opacity": 1}, "encoding": {
    "x": {"field": "x", "type": "quantitative", "axis": null},
    "y": {"field": "y", "type": "quantitative", "axis": null},
    "color": {"field": "s", "type": "nominal", "scale": {"domain": ["E = 2.09 eV","E = 2.16 eV","E = 2.20 eV"], "range": ["#000000","#ff0000","#0000ff"]}, "legend": {"orient": "none", "legendX": 25, "legendY": 25, "title": null, "symbolType": "circle"}},
    "shape": {"field": "s", "type": "nominal", "scale": {"domain": ["E = 2.09 eV","E = 2.16 eV","E = 2.20 eV"], "range": ["circle","square","diamond"]}, "legend": null}}},
  {"mark": {"type": "point", "opacity": 0}, "encoding": {
    "x": {"field": "x", "type": "quantitative", "axis": {"orient": "top", "title": null, "labels": false, "values": [0,1,2,3,4,5,6,7,8,9,10,11,12,13,14,15,16,17,18,19,20,21], "encoding": {"ticks": {"y2": {"condition": {"test": "datum.value % 5 !== 0", "value": 4}, "value": 7}}}}},
    "y": {"field": "y", "type": "quantitative", "axis": {"orient": "right", "title": null, "labels": false, "values": [0,0.025,0.05,0.075,0.1,0.125,0.15,0.175,0.2], "encoding": {"ticks": {"x2": {"condition": {"test": "abs(datum.value*20 - round(datum.value*20)) > 0.001", "value": -4}, "value": -7}}}}}}},
  {"data": {"values": [{}]}, "mark": {"type": "text", "align": "left", "baseline": "middle", "fontSize": 24, "font": "Liberation Serif", "color": "#000"}, "encoding": {"x": {"datum": -6.6, "type": "quantitative", "axis": null}, "y": {"datum": 0.198, "type": "quantitative", "axis": null}, "text": {"value": "(b)"}}},
  {"data": {"values": [{}]}, "mark": {"type": "text", "align": "left", "baseline": "middle", "fontSize": 22, "font": "Liberation Serif", "color": "#000"}, "encoding": {"x": {"datum": 2.0, "type": "quantitative", "axis": null}, "y": {"datum": 0.122, "type": "quantitative", "axis": null}, "text": {"value": "CS"}}}
 ]},
 {"width": 242, "height": 239, "data": {"name": "bR"}, "layer": [
  {"mark": {"type": "line", "strokeWidth": 1.4}, "encoding": {
    "x": {"field": "x", "type": "quantitative", "scale": {"domain": [0, 21], "nice": false, "zero": false}, "axis": {"orient": "bottom", "title": "Hole coordinate", "values": [0,1,2,3,4,5,6,7,8,9,10,11,12,13,14,15,16,17,18,19,20,21], "labelExpr": "datum.value % 5 === 0 ? datum.label : ''", "encoding": {"ticks": {"y2": {"condition": {"test": "datum.value % 5 !== 0", "value": -4}, "value": -7}}}}},
    "y": {"field": "y", "type": "quantitative", "scale": {"domain": [0, 0.15], "nice": false}, "axis": {"orient": "left", "title": null, "values": [0,0.025,0.05,0.075,0.1,0.125], "labelExpr": "abs(datum.value*20 - round(datum.value*20)) < 0.001 ? format(datum.value, '~g') : ''", "encoding": {"ticks": {"x2": {"condition": {"test": "abs(datum.value*20 - round(datum.value*20)) > 0.001", "value": 4}, "value": 7}}}}},
    "stroke": {"field": "s", "type": "nominal", "scale": {"domain": ["E = 2.09 eV","E = 2.16 eV","E = 2.20 eV"], "range": ["#000000","#ff0000","#0000ff"]}, "legend": null}}},
  {"mark": {"type": "point", "filled": false, "size": 64, "strokeWidth": 1.3, "opacity": 1}, "encoding": {
    "x": {"field": "x", "type": "quantitative", "axis": null},
    "y": {"field": "y", "type": "quantitative", "axis": null},
    "color": {"field": "s", "type": "nominal", "scale": {"domain": ["E = 2.09 eV","E = 2.16 eV","E = 2.20 eV"], "range": ["#000000","#ff0000","#0000ff"]}, "legend": null},
    "shape": {"field": "s", "type": "nominal", "scale": {"domain": ["E = 2.09 eV","E = 2.16 eV","E = 2.20 eV"], "range": ["circle","square","diamond"]}, "legend": null}}},
  {"mark": {"type": "point", "opacity": 0}, "encoding": {
    "x": {"field": "x", "type": "quantitative", "axis": {"orient": "top", "title": null, "labels": false, "values": [0,1,2,3,4,5,6,7,8,9,10,11,12,13,14,15,16,17,18,19,20,21], "encoding": {"ticks": {"y2": {"condition": {"test": "datum.value % 5 !== 0", "value": 4}, "value": 7}}}}},
    "y": {"field": "y", "type": "quantitative", "axis": {"orient": "right", "title": null, "labels": false, "values": [0,0.025,0.05,0.075,0.1,0.125], "encoding": {"ticks": {"x2": {"condition": {"test": "abs(datum.value*20 - round(datum.value*20)) > 0.001", "value": -4}, "value": -7}}}}}}}
 ]},
 {"width": 242, "height": 238, "data": {"name": "cL"}, "layer": [
  {"mark": {"type": "line", "strokeWidth": 1.4}, "encoding": {
    "x": {"field": "x", "type": "quantitative", "scale": {"domain": [0, 21], "nice": false, "zero": false}, "axis": {"orient": "bottom", "title": "Electron coordinate", "values": [0,1,2,3,4,5,6,7,8,9,10,11,12,13,14,15,16,17,18,19,20,21], "labelExpr": "datum.value % 5 === 0 ? datum.label : ''", "encoding": {"ticks": {"y2": {"condition": {"test": "datum.value % 5 !== 0", "value": -4}, "value": -7}}}}},
    "y": {"field": "y", "type": "quantitative", "scale": {"domain": [0, 0.275], "nice": false}, "axis": {"orient": "left", "title": "Probability", "values": [0,0.025,0.05,0.075,0.1,0.125,0.15,0.175,0.2,0.225,0.25], "labelExpr": "abs(datum.value*20 - round(datum.value*20)) < 0.001 ? format(datum.value, '~g') : ''", "encoding": {"ticks": {"x2": {"condition": {"test": "abs(datum.value*20 - round(datum.value*20)) > 0.001", "value": 4}, "value": 7}}}}},
    "stroke": {"field": "s", "type": "nominal", "scale": {"domain": ["E = 2.02 eV","E = 2.22 eV","E = 2.29 eV"], "range": ["#000000","#ff0000","#0000ff"]}, "legend": null}}},
  {"mark": {"type": "point", "filled": false, "size": 64, "strokeWidth": 1.3, "opacity": 1}, "encoding": {
    "x": {"field": "x", "type": "quantitative", "axis": null},
    "y": {"field": "y", "type": "quantitative", "axis": null},
    "color": {"field": "s", "type": "nominal", "scale": {"domain": ["E = 2.02 eV","E = 2.22 eV","E = 2.29 eV"], "range": ["#000000","#ff0000","#0000ff"]}, "legend": null},
    "shape": {"field": "s", "type": "nominal", "scale": {"domain": ["E = 2.02 eV","E = 2.22 eV","E = 2.29 eV"], "range": ["circle","square","diamond"]}, "legend": null}}},
  {"mark": {"type": "point", "opacity": 0}, "encoding": {
    "x": {"field": "x", "type": "quantitative", "axis": {"orient": "top", "title": null, "labels": false, "values": [0,1,2,3,4,5,6,7,8,9,10,11,12,13,14,15,16,17,18,19,20,21], "encoding": {"ticks": {"y2": {"condition": {"test": "datum.value % 5 !== 0", "value": 4}, "value": 7}}}}},
    "y": {"field": "y", "type": "quantitative", "axis": {"orient": "right", "title": null, "labels": false, "values": [0,0.025,0.05,0.075,0.1,0.125,0.15,0.175,0.2,0.225,0.25], "encoding": {"ticks": {"x2": {"condition": {"test": "abs(datum.value*20 - round(datum.value*20)) > 0.001", "value": -4}, "value": -7}}}}}}},
  {"data": {"values": [{}]}, "mark": {"type": "text", "align": "left", "baseline": "middle", "fontSize": 24, "font": "Liberation Serif", "color": "#000"}, "encoding": {"x": {"datum": -6.6, "type": "quantitative", "axis": null}, "y": {"datum": 0.25, "type": "quantitative", "axis": null}, "text": {"value": "(c)"}}},
  {"data": {"values": [{}]}, "mark": {"type": "text", "align": "left", "baseline": "middle", "fontSize": 22, "font": "Liberation Serif", "color": "#000"}, "encoding": {"x": {"datum": 1.8, "type": "quantitative", "axis": null}, "y": {"datum": 0.245, "type": "quantitative", "axis": null}, "text": {"value": "CT"}}}
 ]},
 {"width": 242, "height": 238, "data": {"name": "cR"}, "layer": [
  {"mark": {"type": "line", "strokeWidth": 1.4}, "encoding": {
    "x": {"field": "x", "type": "quantitative", "scale": {"domain": [0, 21], "nice": false, "zero": false}, "axis": {"orient": "bottom", "title": "Hole coordinate", "values": [0,1,2,3,4,5,6,7,8,9,10,11,12,13,14,15,16,17,18,19,20,21], "labelExpr": "datum.value % 5 === 0 ? datum.label : ''", "encoding": {"ticks": {"y2": {"condition": {"test": "datum.value % 5 !== 0", "value": -4}, "value": -7}}}}},
    "y": {"field": "y", "type": "quantitative", "scale": {"domain": [0, 0.175], "nice": false}, "axis": {"orient": "left", "title": null, "values": [0,0.025,0.05,0.075,0.1,0.125,0.15], "labelExpr": "abs(datum.value*20 - round(datum.value*20)) < 0.001 ? format(datum.value, '~g') : ''", "encoding": {"ticks": {"x2": {"condition": {"test": "abs(datum.value*20 - round(datum.value*20)) > 0.001", "value": 4}, "value": 7}}}}},
    "stroke": {"field": "s", "type": "nominal", "scale": {"domain": ["E = 2.29 eV","E = 2.22 eV","E = 2.02 eV"], "range": ["#0000ff","#ff0000","#000000"]}, "legend": null}}},
  {"mark": {"type": "point", "filled": false, "size": 64, "strokeWidth": 1.3, "opacity": 1}, "encoding": {
    "x": {"field": "x", "type": "quantitative", "axis": null},
    "y": {"field": "y", "type": "quantitative", "axis": null},
    "color": {"field": "s", "type": "nominal", "scale": {"domain": ["E = 2.02 eV","E = 2.22 eV","E = 2.29 eV"], "range": ["#000000","#ff0000","#0000ff"]}, "legend": {"orient": "none", "legendX": 107, "legendY": 9, "title": null, "symbolType": "circle"}},
    "shape": {"field": "s", "type": "nominal", "scale": {"domain": ["E = 2.02 eV","E = 2.22 eV","E = 2.29 eV"], "range": ["circle","square","diamond"]}, "legend": null}}},
  {"mark": {"type": "point", "opacity": 0}, "encoding": {
    "x": {"field": "x", "type": "quantitative", "axis": {"orient": "top", "title": null, "labels": false, "values": [0,1,2,3,4,5,6,7,8,9,10,11,12,13,14,15,16,17,18,19,20,21], "encoding": {"ticks": {"y2": {"condition": {"test": "datum.value % 5 !== 0", "value": 4}, "value": 7}}}}},
    "y": {"field": "y", "type": "quantitative", "axis": {"orient": "right", "title": null, "labels": false, "values": [0,0.025,0.05,0.075,0.1,0.125,0.15], "encoding": {"ticks": {"x2": {"condition": {"test": "abs(datum.value*20 - round(datum.value*20)) > 0.001", "value": -4}, "value": -7}}}}}}}
 ]},
 {"width": 242, "height": 245, "data": {"name": "dL"}, "layer": [
  {"mark": {"type": "line", "strokeWidth": 1.4}, "encoding": {
    "x": {"field": "x", "type": "quantitative", "scale": {"domain": [0, 21], "nice": false, "zero": false}, "axis": {"orient": "bottom", "title": "Electron coordinate", "values": [0,1,2,3,4,5,6,7,8,9,10,11,12,13,14,15,16,17,18,19,20,21], "labelExpr": "datum.value % 5 === 0 ? datum.label : ''", "encoding": {"ticks": {"y2": {"condition": {"test": "datum.value % 5 !== 0", "value": -4}, "value": -7}}}}},
    "y": {"field": "y", "type": "quantitative", "scale": {"domain": [0, 0.5], "nice": false}, "axis": {"orient": "left", "title": "Probability", "values": [0,0.05,0.1,0.15,0.2,0.25,0.3,0.35,0.4,0.45,0.5], "labelExpr": "abs(datum.value*10 - round(datum.value*10)) < 0.001 ? format(datum.value, '~g') : ''", "encoding": {"ticks": {"x2": {"condition": {"test": "abs(datum.value*10 - round(datum.value*10)) > 0.001", "value": 4}, "value": 7}}}}},
    "stroke": {"field": "s", "type": "nominal", "scale": {"domain": ["E = 2.51 eV","E = 2.18 eV"], "range": ["#ff0000","#000000"]}, "legend": null}}},
  {"mark": {"type": "point", "filled": false, "size": 64, "strokeWidth": 1.3, "opacity": 1}, "encoding": {
    "x": {"field": "x", "type": "quantitative", "axis": null},
    "y": {"field": "y", "type": "quantitative", "axis": null},
    "color": {"field": "s", "type": "nominal", "scale": {"domain": ["E = 2.18 eV","E = 2.51 eV"], "range": ["#000000","#ff0000"]}, "legend": {"orient": "none", "legendX": 6, "legendY": 23, "title": null, "symbolType": "circle"}},
    "shape": {"field": "s", "type": "nominal", "scale": {"domain": ["E = 2.18 eV","E = 2.51 eV"], "range": ["circle","square"]}, "legend": null}}},
  {"mark": {"type": "point", "opacity": 0}, "encoding": {
    "x": {"field": "x", "type": "quantitative", "axis": {"orient": "top", "title": null, "labels": false, "values": [0,1,2,3,4,5,6,7,8,9,10,11,12,13,14,15,16,17,18,19,20,21], "encoding": {"ticks": {"y2": {"condition": {"test": "datum.value % 5 !== 0", "value": 4}, "value": 7}}}}},
    "y": {"field": "y", "type": "quantitative", "axis": {"orient": "right", "title": null, "labels": false, "values": [0,0.05,0.1,0.15,0.2,0.25,0.3,0.35,0.4,0.45,0.5], "encoding": {"ticks": {"x2": {"condition": {"test": "abs(datum.value*10 - round(datum.value*10)) > 0.001", "value": -4}, "value": -7}}}}}}},
  {"data": {"values": [{}]}, "mark": {"type": "text", "align": "left", "baseline": "middle", "fontSize": 24, "font": "Liberation Serif", "color": "#000"}, "encoding": {"x": {"datum": -6.6, "type": "quantitative", "axis": null}, "y": {"datum": 0.504, "type": "quantitative", "axis": null}, "text": {"value": "(d)"}}},
  {"data": {"values": [{}]}, "mark": {"type": "text", "align": "left", "baseline": "middle", "fontSize": 22, "font": "Liberation Serif", "color": "#000"}, "encoding": {"x": {"datum": 0.69, "type": "quantitative", "axis": null}, "y": {"datum": 0.337, "type": "quantitative", "axis": null}, "text": {"value": "XA"}}}
 ]},
 {"width": 242, "height": 245, "data": {"name": "dR"}, "layer": [
  {"mark": {"type": "line", "strokeWidth": 1.4}, "encoding": {
    "x": {"field": "x", "type": "quantitative", "scale": {"domain": [0, 21], "nice": false, "zero": false}, "axis": {"orient": "bottom", "title": "Hole coordinate", "values": [0,1,2,3,4,5,6,7,8,9,10,11,12,13,14,15,16,17,18,19,20,21], "labelExpr": "datum.value % 5 === 0 ? datum.label : ''", "encoding": {"ticks": {"y2": {"condition": {"test": "datum.value % 5 !== 0", "value": -4}, "value": -7}}}}},
    "y": {"field": "y", "type": "quantitative", "scale": {"domain": [0, 0.32], "nice": false}, "axis": {"orient": "left", "title": null, "values": [0,0.05,0.1,0.15,0.2,0.25,0.3], "labelExpr": "abs(datum.value*10 - round(datum.value*10)) < 0.001 ? format(datum.value, '~g') : ''", "encoding": {"ticks": {"x2": {"condition": {"test": "abs(datum.value*10 - round(datum.value*10)) > 0.001", "value": 4}, "value": 7}}}}},
    "stroke": {"field": "s", "type": "nominal", "scale": {"domain": ["E = 2.18 eV","E = 2.51 eV"], "range": ["#000000","#ff0000"]}, "legend": null}}},
  {"mark": {"type": "point", "filled": false, "size": 64, "strokeWidth": 1.3, "opacity": 1}, "encoding": {
    "x": {"field": "x", "type": "quantitative", "axis": null},
    "y": {"field": "y", "type": "quantitative", "axis": null},
    "color": {"field": "s", "type": "nominal", "scale": {"domain": ["E = 2.18 eV","E = 2.51 eV"], "range": ["#000000","#ff0000"]}, "legend": null},
    "shape": {"field": "s", "type": "nominal", "scale": {"domain": ["E = 2.18 eV","E = 2.51 eV"], "range": ["circle","square"]}, "legend": null}}},
  {"mark": {"type": "point", "opacity": 0}, "encoding": {
    "x": {"field": "x", "type": "quantitative", "axis": {"orient": "top", "title": null, "labels": false, "values": [0,1,2,3,4,5,6,7,8,9,10,11,12,13,14,15,16,17,18,19,20,21], "encoding": {"ticks": {"y2": {"condition": {"test": "datum.value % 5 !== 0", "value": 4}, "value": 7}}}}},
    "y": {"field": "y", "type": "quantitative", "axis": {"orient": "right", "title": null, "labels": false, "values": [0,0.05,0.1,0.15,0.2,0.25,0.3], "encoding": {"ticks": {"x2": {"condition": {"test": "abs(datum.value*10 - round(datum.value*10)) > 0.001", "value": -4}, "value": -7}}}}}}}
 ]}
]
}
